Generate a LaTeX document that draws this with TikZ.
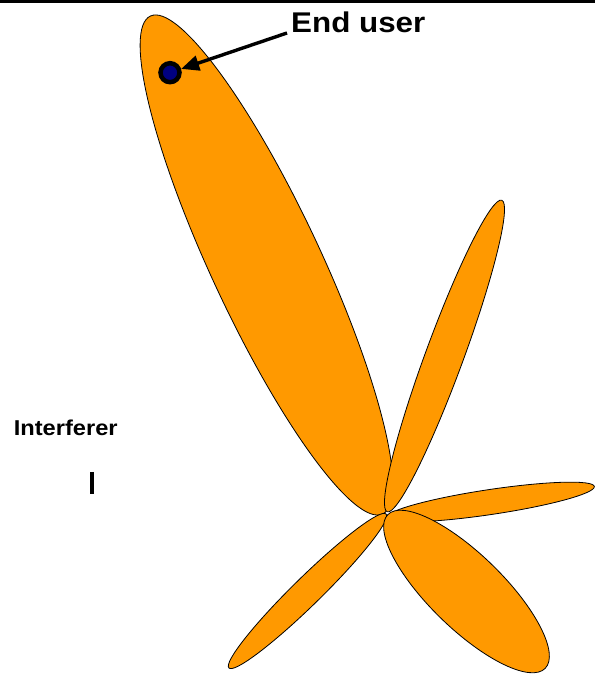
\documentclass[tikz,border=0pt]{standalone}
\usepackage{fontspec}
\newfontfamily\labfont[FakeStretch=1.1]{Liberation Sans Bold}
\usetikzlibrary{arrows.meta,calc}
\definecolor{lobe}{HTML}{FF9900}
\definecolor{userblue}{HTML}{000080}
\begin{document}
\begin{tikzpicture}[x=1pt,y=1pt,
  lobestyle/.style={draw=black,line width=0.8pt,fill=lobe},
  txtlabel/.style={inner sep=0pt,anchor=base west,text=black}]
\useasboundingbox (0,0) rectangle (595,680);
% top rule
\draw[line width=2.7pt] (0,678.7) -- (595,678.7);
% lobes
\draw[lobestyle,rotate around={115:(266.5,415)}] (266.5,415) ellipse [x radius=274.7pt, y radius=55pt];
\draw[lobestyle,rotate around={69.8:(444.5,324)}] (444.5,324) ellipse [x radius=166pt, y radius=19pt];
\draw[lobestyle,rotate around={8.5:(490.5,178)}] (490.5,178) ellipse [x radius=105pt, y radius=12.5pt];
\draw[lobestyle,rotate around={44.4:(307.5,89)}] (307.5,89) ellipse [x radius=110pt, y radius=14pt];
\draw[lobestyle,rotate around={-44.3:(466.5,88.5)}] (466.5,88.5) ellipse [x radius=110pt, y radius=37pt];
% end user
\node[circle,draw=black,line width=4.5pt,fill=userblue,minimum size=19pt,inner sep=0pt] (user) at (170,607.3) {};
\node[txtlabel,font=\labfont\fontsize{28.5}{32}\selectfont] (eu) at (291,647) {End user};
\draw[line width=3.4pt,-{Triangle[length=18pt,width=15pt]}] ($(eu.base west)+(-4,0)$) -- (user);
% interferer
\node[txtlabel,font=\labfont\fontsize{21.5}{25}\selectfont] (intf) at (13.6,244) {Interferer};
\coordinate (barTop) at (92,208);
\coordinate (barBot) at (92,186);
\draw[line width=4pt] (barTop) -- (barBot);
\end{tikzpicture}
\end{document}
